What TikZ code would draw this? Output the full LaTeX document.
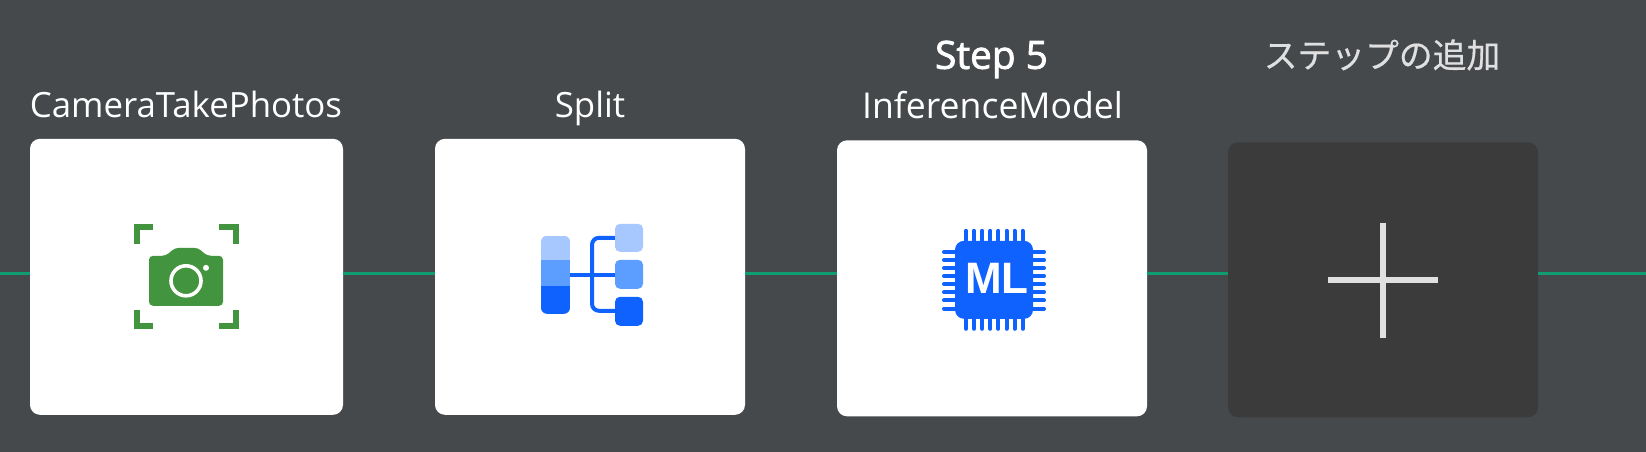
\documentclass[tikz,border=0pt]{standalone}
\usepackage{fontspec}
\setmainfont{Open Sans}
\newfontfamily\semifont[FakeBold=2]{Open Sans}
\newfontfamily\jpfont[FakeBold=0.5]{Noto Sans CJK JP}
\definecolor{bgc}{HTML}{46494C}
\definecolor{addc}{HTML}{3B3B3B}
\definecolor{linkc}{HTML}{0F9D70}
\definecolor{camc}{HTML}{43943F}
\definecolor{bluea}{HTML}{0F62FE}
\definecolor{blueb}{HTML}{5C9EFF}
\definecolor{bluec}{HTML}{A6C8FF}
\definecolor{plusc}{HTML}{E0E0E0}
\tikzset{
  card/.style={rectangle,rounded corners=10pt,inner sep=0pt,minimum width=#1,fill=white},
  addcard/.style={rectangle,rounded corners=10pt,inner sep=0pt,minimum width=310pt,minimum height=275pt,fill=addc},
  lab/.style={anchor=base,inner sep=0pt,text=white,font=\fontsize{34.8}{38}\selectfont},
  widelab/.style={anchor=base,inner sep=0pt,text=white,font=\fontsize{35.6}{38}\selectfont},
  boldlab/.style={anchor=base,inner sep=0pt,text=white,font=\semifont\fontsize{38.8}{42}\selectfont},
  jplab/.style={anchor=base,inner sep=0pt,text=plusc,font=\fontsize{33.8}{38}\selectfont\jpfont},
  link/.style={draw=linkc,line width=3pt},
  corner/.style={draw=camc,line width=6pt,line cap=butt,line join=miter},
  tree/.style={draw=bluea,line width=4pt},
  pin/.style={draw=bluea,line width=4pt,line cap=round},
  plusbar/.style={draw=plusc,line width=5.5pt}
}
\begin{document}
\begin{tikzpicture}[x=1pt,y=-1pt]
\useasboundingbox[fill=bgc] (0,0) rectangle (1646,452);
\begin{scope}[yshift=-0.8pt]
\coordinate (startL) at (0,273);
\coordinate (endR) at (1646,273);
% cards
\node[card=313pt,minimum height=276pt] (c1) at (186.5,276) {};
\node[card=310pt,minimum height=276pt] (c2) at (590,276) {};
\node[card=310pt,minimum height=276pt] (c3) at (992,277.5) {};
\node[addcard] (c4) at (1383,279) {};
% connectors
\draw[link] (startL) -- (startL -| c1.west);
\draw[link] (c1.east |- startL) -- (c2.west |- startL);
\draw[link] (c2.east |- startL) -- (c3.west |- startL);
\draw[link] (c3.east |- startL) -- (c4.west |- startL);
\draw[link] (c4.east |- startL) -- (endR);
% labels
\node[lab] (l1) at (186,117) {CameraTakePhotos};
\node[lab] (l2) at (590,117) {Split};
\node[widelab] (l3) at (992.5,118) {InferenceModel};
\node[boldlab] (s3) at (991.5,68) {Step 5};
\node[jplab] (l4) at (1382,67) {ステップの追加};
% camera icon
\draw[corner] (137,243) -- (137,226) -- (153,226);
\draw[corner] (219,226) -- (236,226) -- (236,243);
\draw[corner] (137,309) -- (137,325) -- (153,325);
\draw[corner] (219,325) -- (236,325) -- (236,309);
\fill[camc,rounded corners=4pt] (149,255) -- (166,255) -- (175,247) -- (198,247) -- (207,255) -- (223,255) -- (223,305) -- (149,305) -- cycle;
\draw[white,line width=3.6pt] (186,280) circle[radius=15pt];
\fill[white] (206,267) circle[radius=3pt];
% split icon
\begin{scope}
  \clip[rounded corners=6pt] (541,235) rectangle (570,313);
  \fill[bluec] (541,235) rectangle (570,259);
  \fill[blueb] (541,259) rectangle (570,285);
  \fill[bluea] (541,285) rectangle (570,313);
\end{scope}
\draw[tree] (570,274) -- (615,274);
\draw[tree,rounded corners=7pt] (615,237) -- (592,237) -- (592,310) -- (615,310);
\fill[bluec,rounded corners=5pt] (615,223) rectangle (643,251);
\fill[blueb,rounded corners=5pt] (615,259) rectangle (643,288);
\fill[bluea,rounded corners=5pt] (615,296) rectangle (643,325);
% chip icon
\fill[bluea,rounded corners=9pt] (955,240) rectangle (1033,318);
\foreach \i in {0,...,7} {
  \draw[pin] ({966+8.1*\i},230) -- ({966+8.1*\i},240);
  \draw[pin] ({966+8.1*\i},318) -- ({966+8.1*\i},328);
  \draw[pin] (944,{251+8.1*\i}) -- (955,{251+8.1*\i});
  \draw[pin] (1033,{251+8.1*\i}) -- (1044,{251+8.1*\i});
}
\node[anchor=base,inner sep=0pt,text=white,font=\fontspec{Liberation Sans}\fontsize{44}{46}\selectfont\bfseries] (ml) at (997,293) {ML};
% plus icon
\draw[plusbar] (1328,279) -- (1438,279);
\draw[plusbar] (1383,222) -- (1383,337);
\end{scope}
\end{tikzpicture}
\end{document}
